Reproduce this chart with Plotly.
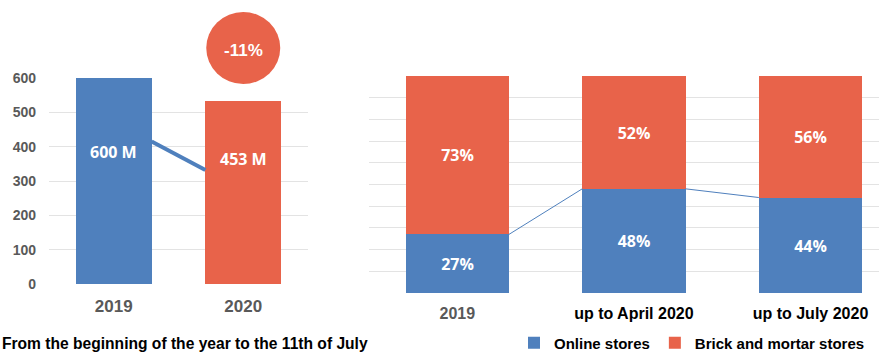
import plotly.graph_objects as go

# Left panel: total buyers (millions), year to the 11th of July
years = ["2019", "2020"]
buyers_m = [600, 534]
buyer_labels = ["600 M", "453 M"]
trend_m = [415, 332]          # decorative trend stroke between the two bars

# Right panel: share of purchases by channel (%)
periods = ["2019", "up to April 2020", "up to July 2020"]
online_pct = [27, 48, 44]
brick_pct = [73, 52, 56]

BLUE = "#4F80BD"
ORANGE = "#E8634A"
GREY_TXT = "#595959"
GRID = "#E3E3E3"
SANS = "Liberation Sans"
LABEL_FONT = "Open Sans"

W, H = 879, 352
BAR_W = 0.585


def px_x(p):
    return p / W


def px_y(p):
    return (H - p) / H


fig = go.Figure()

# ---- left panel ----
fig.add_trace(go.Bar(
    x=list(range(len(years))), y=buyers_m, width=BAR_W,
    marker=dict(color=[BLUE, ORANGE], line=dict(width=0)),
    xaxis="x", yaxis="y", showlegend=False, hoverinfo="skip",
))
fig.add_trace(go.Scatter(
    x=[0 + BAR_W / 2, 1 - BAR_W / 2], y=trend_m, mode="lines",
    line=dict(color=BLUE, width=4), xaxis="x", yaxis="y",
    showlegend=False, hoverinfo="skip",
))

# ---- right panel ----
fig.add_trace(go.Bar(
    x=list(range(len(periods))), y=online_pct, width=BAR_W, name="Online stores",
    marker=dict(color=BLUE, line=dict(width=0)),
    text=[f"{v}%" for v in online_pct], textposition="inside",
    insidetextanchor="middle",
    textfont=dict(family=LABEL_FONT, size=16, color="white", weight="bold"),
    xaxis="x2", yaxis="y2", hoverinfo="skip",
))
fig.add_trace(go.Bar(
    x=list(range(len(periods))), y=brick_pct, width=BAR_W,
    name="Brick and mortar stores",
    marker=dict(color=ORANGE, line=dict(width=0)),
    text=[f"{v}%" for v in brick_pct], textposition="inside",
    insidetextanchor="middle",
    textfont=dict(family=LABEL_FONT, size=16, color="white", weight="bold"),
    xaxis="x2", yaxis="y2", hoverinfo="skip",
))
# thin connector along the top of the online share
link_x, link_y = [], []
for i in range(len(periods) - 1):
    link_x += [i + BAR_W / 2, i + 1 - BAR_W / 2, None]
    link_y += [online_pct[i], online_pct[i + 1], None]
fig.add_trace(go.Scatter(
    x=link_x, y=link_y, mode="lines", line=dict(color=BLUE, width=1),
    xaxis="x2", yaxis="y2", showlegend=False, hoverinfo="skip",
))

# value labels inside the left bars
label_y = [385, 364]
annotations = []
for i, (txt, yv) in enumerate(zip(buyer_labels, label_y)):
    annotations.append(dict(
        x=i, y=yv, xref="x", yref="y", text=txt, showarrow=False,
        font=dict(family=LABEL_FONT, size=16, color="white", weight="bold"),
    ))

# year-on-year change badge
change = round((buyers_m[1] - buyers_m[0]) / buyers_m[0] * 100)
annotations.append(dict(
    x=1, y=px_y(50), xref="x", yref="paper", xanchor="center",
    yanchor="middle", text=f"{change}%", showarrow=False,
    font=dict(family=SANS, size=17, color="white", weight="bold"),
))

annotations.append(dict(
    x=0, y=px_y(343), xref="paper", yref="paper", xanchor="left",
    yanchor="middle",
    text="From the beginning of the year to the 11th of July", showarrow=False,
    font=dict(family=SANS, size=15.6, color="black", weight="bold"),
))

shapes = [dict(
    type="circle", xref="x", yref="paper", xsizemode="pixel", ysizemode="pixel",
    xanchor=1, yanchor=px_y(48), x0=-37, x1=37, y0=-36, y1=36,
    fillcolor=ORANGE, line=dict(width=0), layer="above",
)]

right_ticks = [
    f"<span style='color:{GREY_TXT}'>{periods[0]}</span>",
    periods[1], periods[2],
]

fig.update_layout(
    template="none",
    width=W, height=H,
    margin=dict(l=0, r=0, t=0, b=0, pad=0, autoexpand=False),
    paper_bgcolor="white", plot_bgcolor="white",
    barmode="stack", bargap=0,
    font=dict(family=SANS),
    xaxis=dict(
        domain=[px_x(49), px_x(308)], range=[-0.5, 1.5], automargin=False,
        tickvals=[0, 1], ticktext=years, showgrid=False, zeroline=False,
        showline=False, ticks="", ticklabelstandoff=10,
        tickfont=dict(family=SANS, size=17, color=GREY_TXT, weight="bold"),
        anchor="y",
    ),
    yaxis=dict(
        domain=[px_y(284), px_y(78)], range=[0, 600], automargin=False,
        tickvals=list(range(0, 601, 100)), showgrid=True, gridcolor=GRID,
        gridwidth=1, zeroline=False, showline=False, ticks="",
        ticklabelstandoff=12,
        tickfont=dict(family=SANS, size=14, color=GREY_TXT, weight="bold"),
        anchor="x",
    ),
    xaxis2=dict(
        domain=[px_x(369), 1], range=[-0.5, 2.388], automargin=False,
        tickvals=[0, 1, 2], ticktext=right_ticks, showgrid=False,
        zeroline=False, showline=False, ticks="", ticklabelstandoff=9,
        tickfont=dict(family=SANS, size=16, color="black", weight="bold"),
        anchor="y2",
    ),
    yaxis2=dict(
        domain=[px_y(293), px_y(76)], range=[0, 100], automargin=False,
        tickvals=list(range(0, 101, 10)), showgrid=True, gridcolor=GRID,
        gridwidth=1, zeroline=False, showline=False, showticklabels=False,
        ticks="", anchor="x2",
    ),
    legend=dict(
        orientation="h", x=px_x(514), xanchor="left", y=px_y(343),
        yanchor="middle",
        font=dict(family=SANS, size=15, color="black", weight="bold"),
        bgcolor="rgba(0,0,0,0)", borderwidth=0, itemwidth=30,
        traceorder="normal",
    ),
    annotations=annotations,
    shapes=shapes,
)

fig.write_html("out.html")
